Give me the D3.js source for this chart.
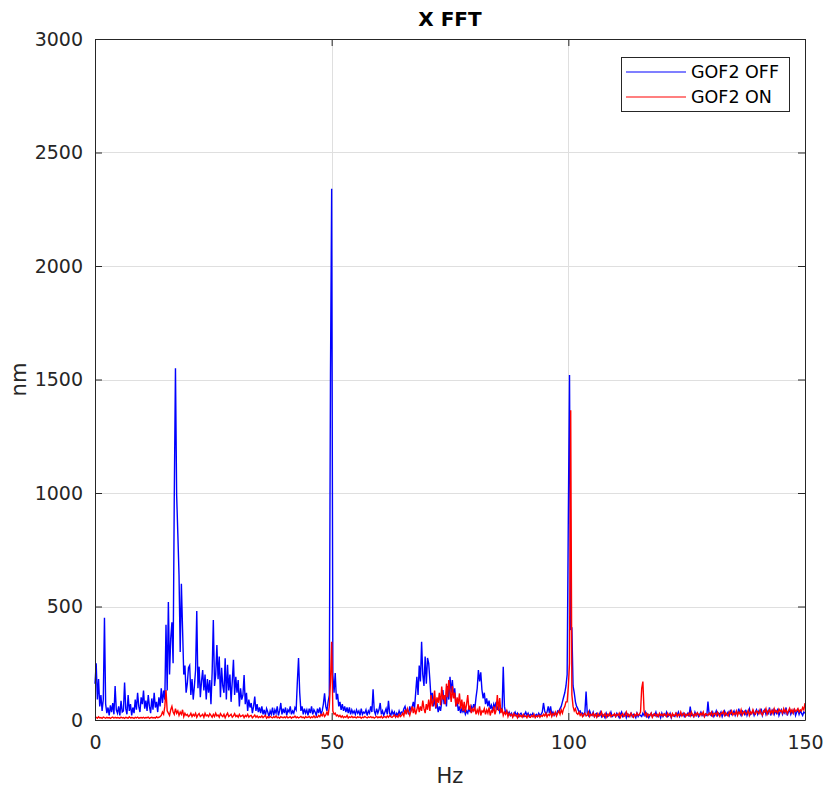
<!DOCTYPE html>
<html>
<head>
<meta charset="utf-8">
<script src="https://cdn.jsdelivr.net/npm/d3@7"></script>
<style>
  body { margin: 0; background: #fff; }
  svg { font-family: 'DejaVu Sans', sans-serif; }
</style>
</head>
<body>
<div id="chart"></div>
<script>
// FFT bin spacing (Hz); values below are one per bin, from 0 to 150 Hz
const hzStep = 0.25;

const seriesNames = ['GOF2 OFF', 'GOF2 ON'];
const seriesColors = ['#0000ff', '#ff0000'];

const xTicks = [0, 50, 100, 150];
const yTicks = [0, 500, 1000, 1500, 2000, 2500, 3000];

// GOF2 OFF (nm), 20 bins per row = 5 Hz
const gofOff = [
  160, 250, 90, 180, 60, 110, 40, 90, 450, 70, 30, 55, 20, 65, 35, 75, 25, 150, 45, 30,
  60, 20, 85, 35, 40, 165, 50, 25, 110, 40, 70, 20, 55, 30, 90, 45, 120, 60, 35, 100,
  70, 130, 50, 85, 40, 110, 60, 30, 95, 45, 120, 55, 80, 35, 100, 60, 140, 75, 130, 90,
  420, 130, 520, 200, 360, 430, 250, 990, 1550, 990, 820, 640, 300, 600, 400, 200, 240, 120, 160, 230,
  240, 110, 180, 90, 150, 220, 480, 140, 235, 100, 170, 220, 130, 200, 90, 180, 120, 176, 70, 210,
  440, 150, 200, 330, 180, 280, 100, 230, 150, 120, 272, 90, 243, 130, 200, 80, 170, 265, 110, 190,
  120, 176, 60, 140, 90, 110, 198, 70, 120, 40, 90, 55, 75, 30, 60, 103, 40, 70, 35, 55,
  30, 60, 25, 45, 20, 50, 35, 15, 40, 25, 55, 20, 45, 30, 60, 20, 40, 75, 25, 50,
  30, 55, 20, 45, 35, 60, 25, 40, 30, 55, 45, 168, 273, 120, 40, 60, 25, 50, 30, 45,
  20, 50, 30, 60, 25, 45, 35, 20, 50, 30, 55, 25, 40, 70, 118, 60, 40, 80, 110, 1530,
  2340, 200, 120, 207, 90, 115, 60, 80, 45, 70, 40, 60, 35, 55, 30, 56, 25, 45, 30, 40,
  25, 45, 30, 40, 20, 50, 25, 35, 30, 45, 20, 40, 30, 60, 35, 135, 40, 25, 50, 30,
  45, 75, 25, 40, 20, 35, 50, 25, 84, 30, 20, 40, 25, 35, 15, 30, 20, 40, 25, 35,
  30, 50, 60, 35, 45, 25, 60, 40, 55, 80, 50, 120, 190, 110, 240, 170, 345, 200, 150, 280,
  160, 273, 250, 176, 90, 120, 60, 95, 50, 75, 35, 60, 40, 80, 132, 70, 110, 60, 150, 90,
  190, 120, 176, 100, 140, 60, 90, 40, 60, 30, 50, 35, 45, 25, 40, 30, 55, 35, 60, 45,
  70, 50, 100, 140, 220, 170, 210, 132, 95, 120, 70, 95, 60, 85, 50, 65, 40, 70, 55, 80,
  45, 60, 35, 50, 40, 235, 60, 30, 40, 25, 35, 20, 30, 15, 25, 35, 20, 30, 15, 25,
  30, 20, 15, 25, 35, 20, 30, 15, 25, 20, 30, 15, 20, 25, 15, 30, 20, 25, 35, 75,
  40, 25, 35, 60, 30, 60, 25, 35, 20, 30, 25, 40, 35, 50, 60, 80, 100, 120, 150, 200,
  900, 1520, 400, 404, 150, 120, 80, 60, 50, 35, 40, 25, 30, 20, 35, 125, 30, 20, 40, 25,
  20, 35, 15, 25, 30, 15, 20, 35, 15, 25, 20, 10, 30, 15, 25, 20, 35, 15, 20, 25,
  15, 30, 20, 10, 25, 35, 15, 20, 30, 10, 25, 15, 20, 30, 15, 25, 20, 10, 30, 15,
  25, 20, 15, 30, 20, 35, 15, 25, 10, 20, 30, 15, 25, 20, 35, 15, 20, 25, 10, 30,
  15, 25, 20, 35, 15, 20, 30, 10, 25, 20, 15, 30, 20, 35, 15, 25, 20, 30, 15, 25,
  20, 30, 15, 59, 20, 25, 15, 35, 20, 30, 15, 25, 35, 20, 30, 15, 25, 20, 81, 25,
  30, 20, 35, 15, 25, 40, 20, 30, 25, 35, 15, 30, 40, 20, 25, 35, 20, 45, 25, 30,
  40, 20, 35, 25, 50, 30, 20, 40, 35, 25, 45, 20, 35, 50, 25, 30, 40, 20, 35, 45,
  25, 40, 30, 50, 20, 35, 45, 25, 40, 30, 55, 20, 35, 45, 25, 40, 30, 50, 20, 35,
  45, 25, 40, 30, 55, 20, 35, 45, 25, 40, 30, 50, 20, 35, 45, 25, 40, 30, 20, 35,
  30,
];

// GOF2 ON (nm), same bins
const gofOn = [
  10, 12, 8, 14, 9, 11, 7, 13, 10, 8, 12, 9, 11, 7, 10, 13, 8, 12, 9, 11,
  10, 8, 13, 9, 11, 7, 12, 10, 8, 14, 9, 11, 10, 7, 12, 9, 13, 8, 10, 11,
  9, 12, 8, 11, 10, 13, 7, 10, 12, 9, 11, 8, 14, 10, 12, 15, 20, 35, 25, 60,
  132, 40, 30, 20, 45, 60, 35, 25, 50, 30, 40, 20, 35, 25, 45, 15, 30, 20, 25, 15,
  20, 30, 15, 25, 18, 30, 12, 22, 28, 15, 20, 25, 12, 30, 18, 22, 15, 28, 20, 12,
  25, 15, 30, 18, 22, 12, 28, 20, 15, 25, 10, 22, 30, 15, 20, 25, 12, 18, 28, 15,
  20, 12, 25, 15, 18, 22, 10, 20, 15, 25, 12, 18, 20, 10, 15, 22, 12, 18, 10, 15,
  12, 18, 10, 15, 20, 8, 14, 10, 16, 12, 9, 15, 11, 18, 10, 13, 8, 15, 12, 10,
  14, 10, 16, 9, 12, 15, 8, 13, 11, 17, 10, 14, 9, 12, 16, 10, 13, 8, 15, 11,
  12, 16, 9, 14, 11, 18, 10, 15, 12, 20, 14, 25, 18, 30, 15, 22, 35, 20, 60, 169,
  345, 40, 25, 30, 18, 22, 15, 20, 12, 18, 10, 15, 12, 20, 9, 14, 11, 16, 10, 13,
  12, 9, 15, 11, 14, 8, 13, 10, 16, 12, 9, 14, 11, 15, 10, 13, 8, 12, 16, 10,
  14, 11, 17, 9, 13, 15, 10, 18, 12, 20, 14, 11, 16, 22, 13, 18, 12, 25, 15, 20,
  30, 18, 45, 25, 50, 35, 20, 40, 60, 30, 55, 25, 45, 70, 35, 60, 40, 85, 50, 30,
  70, 45, 90, 40, 110, 60, 85, 130, 55, 100, 75, 120, 65, 147, 90, 110, 70, 160, 100, 176,
  130, 80, 150, 95, 120, 60, 100, 70, 117, 50, 90, 40, 80, 35, 70, 110, 45, 60, 30, 50,
  40, 55, 25, 45, 30, 60, 20, 40, 35, 50, 25, 45, 30, 55, 20, 40, 35, 60, 25, 45,
  110, 40, 97, 30, 50, 20, 35, 25, 40, 15, 30, 20, 25, 12, 28, 18, 22, 10, 25, 15,
  20, 12, 25, 15, 18, 10, 22, 15, 12, 20, 14, 25, 10, 18, 15, 22, 12, 20, 16, 25,
  18, 30, 14, 25, 20, 35, 15, 28, 22, 35, 18, 30, 40, 25, 45, 30, 50, 60, 80, 80,
  147, 250, 1365, 110, 60, 40, 50, 30, 25, 35, 20, 28, 15, 25, 30, 18, 22, 35, 15, 25,
  20, 30, 15, 25, 12, 28, 18, 22, 35, 15, 20, 28, 12, 25, 18, 30, 15, 22, 20, 28,
  15, 25, 20, 30, 12, 22, 28, 15, 20, 35, 18, 25, 15, 30, 20, 12, 25, 18, 30, 20,
  25, 35, 140, 169, 40, 20, 30, 15, 25, 20, 30, 12, 22, 28, 18, 25, 15, 30, 20, 25,
  18, 28, 22, 15, 30, 20, 25, 12, 28, 18, 22, 30, 15, 25, 20, 35, 18, 25, 30, 15,
  25, 20, 30, 18, 35, 22, 15, 28, 20, 32, 25, 18, 30, 22, 35, 15, 28, 25, 20, 30,
  22, 35, 18, 28, 30, 20, 35, 25, 15, 30, 28, 38, 20, 32, 25, 18, 35, 28, 40, 22,
  30, 25, 40, 20, 35, 28, 45, 22, 32, 38, 25, 30, 42, 20, 35, 28, 45, 30, 25, 40,
  35, 28, 45, 30, 22, 40, 35, 50, 25, 38, 45, 30, 42, 28, 50, 35, 40, 30, 48, 38,
  42, 30, 50, 35, 45, 28, 40, 52, 35, 45, 30, 48, 38, 42, 50, 35, 45, 40, 55, 45,
  74,
];

const series = [gofOff, gofOn];

const size = { width: 827, height: 787 };
const margin = { top: 39, right: 22, bottom: 67, left: 95 };
const axisColor = '#262626';

const svg = d3
  .select('#chart')
  .append('svg')
  .attr('width', size.width)
  .attr('height', size.height);

const x = d3
  .scaleLinear()
  .domain([0, 150])
  .range([margin.left, size.width - margin.right]);

const y = d3
  .scaleLinear()
  .domain([0, 3000])
  .range([size.height - margin.bottom, margin.top]);

// grid
const grid = svg.append('g');
yTicks.slice(1, -1).forEach((v) => {
  grid
    .append('line')
    .attr('x1', x.range()[0])
    .attr('x2', x.range()[1])
    .attr('y1', Math.round(y(v)) + 0.5)
    .attr('y2', Math.round(y(v)) + 0.5)
    .attr('stroke', '#dfdfdf')
    .attr('stroke-width', 1);
});
xTicks.slice(1, -1).forEach((v) => {
  grid
    .append('line')
    .attr('x1', Math.round(x(v)) + 0.5)
    .attr('x2', Math.round(x(v)) + 0.5)
    .attr('y1', y.range()[0])
    .attr('y2', y.range()[1])
    .attr('stroke', '#dfdfdf')
    .attr('stroke-width', 1);
});

// spectra
const line = d3
  .line()
  .x((d, i) => x(i * hzStep))
  .y((d) => y(d));

svg
  .selectAll('.spectrum')
  .data(series)
  .join('path')
  .attr('class', 'spectrum')
  .attr('d', (d) => line(d))
  .attr('fill', 'none')
  .attr('stroke', (d, i) => seriesColors[i])
  .attr('stroke-width', 1.4)
  .attr('stroke-linejoin', 'miter');

// axes (ticks pointing inward on all four sides, like a boxed plot)
const styleAxis = (g) => {
  g.select('.domain').attr('stroke', axisColor);
  g.selectAll('.tick line').attr('stroke', axisColor);
  g.selectAll('.tick text').attr('fill', axisColor).style('font-size', '19px');
};

svg
  .append('g')
  .attr('transform', `translate(0, ${y.range()[0]})`)
  .call(d3.axisBottom(x).tickValues(xTicks).tickSize(-7).tickPadding(16).tickSizeOuter(0))
  .call(styleAxis)
  .attr('font-family', null);

svg
  .append('g')
  .attr('transform', `translate(0, ${y.range()[1]})`)
  .call(d3.axisTop(x).tickValues(xTicks).tickSize(-7).tickFormat('').tickSizeOuter(0))
  .call(styleAxis);

svg
  .append('g')
  .attr('transform', `translate(${x.range()[0]}, 0)`)
  .call(
    d3.axisLeft(y).tickValues(yTicks).tickFormat(d3.format('d')).tickSize(-7).tickPadding(12).tickSizeOuter(0),
  )
  .call(styleAxis)
  .attr('font-family', null);

svg
  .append('g')
  .attr('transform', `translate(${x.range()[1]}, 0)`)
  .call(d3.axisRight(y).tickValues(yTicks).tickSize(-7).tickFormat('').tickSizeOuter(0))
  .call(styleAxis);

// labels
svg
  .append('text')
  .attr('x', (x.range()[0] + x.range()[1]) / 2)
  .attr('y', 26)
  .attr('text-anchor', 'middle')
  .attr('font-weight', 'bold')
  .attr('font-size', 20)
  .attr('fill', '#000')
  .text('X FFT');

svg
  .append('text')
  .attr('x', (x.range()[0] + x.range()[1]) / 2)
  .attr('y', 783)
  .attr('text-anchor', 'middle')
  .attr('font-size', 21)
  .attr('fill', axisColor)
  .text('Hz');

svg
  .append('text')
  .attr('transform', `translate(26, ${(y.range()[0] + y.range()[1]) / 2}) rotate(-90)`)
  .attr('text-anchor', 'middle')
  .attr('font-size', 21)
  .attr('fill', axisColor)
  .text('nm');

// legend
const legend = svg.append('g').attr('transform', 'translate(621, 57)');
legend
  .append('rect')
  .attr('x', 0.5)
  .attr('y', 0.5)
  .attr('width', 168)
  .attr('height', 54)
  .attr('fill', '#fff')
  .attr('stroke', axisColor);

seriesNames.forEach((name, i) => {
  const ly = 15 + i * 25;
  legend
    .append('line')
    .attr('x1', 5)
    .attr('x2', 65)
    .attr('y1', ly)
    .attr('y2', ly)
    .attr('stroke', seriesColors[i])
    .attr('stroke-width', 1.2);
  legend
    .append('text')
    .attr('x', 70)
    .attr('y', ly)
    .attr('dy', '0.35em')
    .attr('font-size', 17.5)
    .attr('fill', '#000')
    .text(name);
});
</script>
</body>
</html>
